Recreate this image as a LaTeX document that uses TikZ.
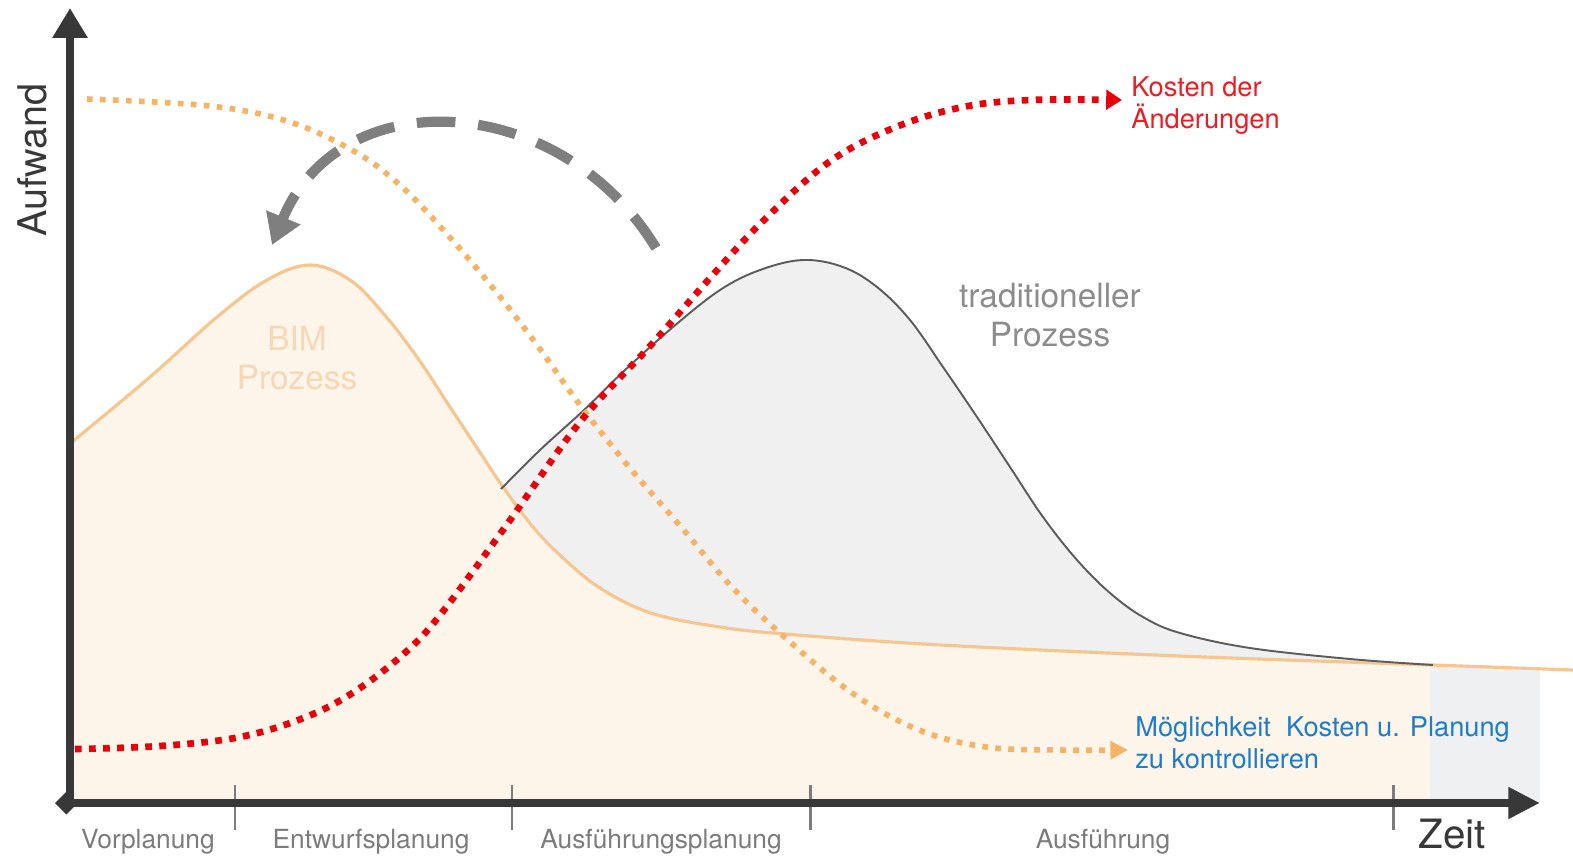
\documentclass[tikz,border=0pt]{standalone}
\usepackage{fontspec}
\setmainfont{TeX Gyre Heros}
\usetikzlibrary{arrows.meta}

\definecolor{achsgrau}{HTML}{383838}
\definecolor{phasengrau}{HTML}{7C7C7C}
\definecolor{bimorange}{HTML}{F5C690}
\definecolor{bimflaeche}{HTML}{FDF4EA}
\definecolor{tradflaeche}{HTML}{F0F0F0}
\definecolor{tradlinie}{HTML}{5C5C5C}
\definecolor{kostenrot}{HTML}{E8000B}
\definecolor{punktorange}{HTML}{F5B366}
\definecolor{pfeilgrau}{HTML}{7F7F7F}
\definecolor{textblau}{HTML}{1E7CC8}
\definecolor{textrot}{HTML}{EC1C24}
\definecolor{tradtext}{HTML}{8C8C8C}
\definecolor{bimtext}{HTML}{F6D8B6}
\definecolor{endgrau}{HTML}{EEF0F2}

\newcommand\bimlinie{-- plot[smooth,tension=0.6] coordinates {(72,442) (150,377) (217,317) (267,280) (310,265) (350,280) (383,313) (417,357) (450,407) (483,457) (503,487) (533,527) (562,557) (600,588) (651,613) (720,627) (785,634) (941,645) (1180,656) (1433,665) (1573,670)}}
\newcommand\tradlinie{-- plot[smooth,tension=0.6] coordinates {(501,489) (540,450) (584,410) (625,370) (673,327) (720,290) (760,270) (803,260) (843,267) (877,287) (910,320) (943,367) (977,417) (1010,467) (1043,517) (1077,560) (1110,593) (1143,617) (1180,633) (1250,648) (1350,659) (1433,665)}}

\begin{document}
\begin{tikzpicture}[x=0.02cm,y=-0.02cm,
    achse/.style={draw=achsgrau,line width=5pt},
    phasenstrich/.style={draw=phasengrau,line width=1.7pt},
    phase/.style={inner sep=0pt,anchor=base,text=phasengrau,font=\fontsize{15}{18}\selectfont},
    prozess/.style={inner sep=0pt,anchor=north,align=center,font=\fontsize{19}{22}\selectfont},
    hinweis/.style={inner sep=0pt,anchor=north west,align=left,font=\fontsize{15.5}{18.2}\selectfont},
    kosten/.style={draw=kostenrot,line width=3.8pt,dash pattern=on 3.8pt off 4.2pt,-{Triangle[length=9pt,width=11pt]}},
    moeglich/.style={draw=punktorange,line width=3.2pt,dash pattern=on 3.2pt off 4.2pt,-{Triangle[length=10pt,width=10pt]}},
    rueck/.style={draw=pfeilgrau,line width=5.8pt,dash pattern=on 22pt off 13pt,-{Triangle[length=17pt,width=20pt]}}]
    \useasboundingbox (0,0) rectangle (1573,859);
    \coordinate (O) at (70,806);
    \coordinate (ytip) at (70,8);
    \coordinate (xstart) at (55,803);
    \coordinate (xtip) at (1540,803);
    \coordinate (kstart) at (75,749);
    \coordinate (kend) at (1122,100);
    \coordinate (mstart) at (87,99);
    \coordinate (mend) at (1128,750);
    \coordinate (rstart) at (656,248);
    \coordinate (rend) at (272,245);

    \fill[tradflaeche] (501,803) \tradlinie -- (1433,803) -- cycle;
    \begin{scope}
        \clip (72,0) rectangle (1430,803);
        \fill[bimflaeche] (72,803) \bimlinie -- (1573,803) -- cycle;
    \end{scope}
    \begin{scope}
        \clip (1430,0) rectangle (1540,803);
        \fill[endgrau] (72,803) \bimlinie -- (1573,803) -- cycle;
    \end{scope}
    \draw[bimorange,line width=1.8pt] (72,442) \bimlinie;
    \draw[tradlinie,line width=1.1pt] (501,489) \tradlinie;

    \node[prozess,text=bimtext] (bim) at (297,326) {BIM\\Prozess};
    \node[prozess,text=tradtext] (trad) at (1050,283) {traditioneller\\Prozess};

    \draw[rueck] (rstart) .. controls (560,90) and (340,80) .. (rend);
    \draw[moeglich] plot[smooth,tension=0.6] coordinates {(mstart) (210,106) (290,122) (357,153) (402,187) (446,233) (493,288) (537,345) (580,405) (629,467) (682,528) (730,585) (780,633) (852,693) (919,730) (986,747) (1060,750) (mend)};
    \draw[kosten] plot[smooth,tension=0.6] coordinates {(kstart) (160,746) (240,737) (306,717) (357,690) (408,650) (444,610) (508,523) (580,422) (651,345) (710,278) (762,222) (829,162) (896,127) (963,107) (1030,100) (kend)};

    \node[hinweis,text=textrot] (kostenlabel) at (1131,76) {Kosten der\\Änderungen};
    \node[hinweis,text=textblau] (moeglichlabel) at (1135,716) {Möglichkeit\ \ Kosten u. Planung\\zu kontrollieren};

    \foreach \x in {235,512,810,1393}
        \draw[phasenstrich] (\x,785) -- (\x,830);
    \draw[achse,-{Triangle[length=17pt,width=19pt]}] (O) -- (ytip);
    \draw[achse,{Diamond[length=13pt,width=13pt]}-{Triangle[length=18pt,width=17pt]}] (xstart) -- (xtip);

    \node[phase] (vor) at (148,848) {Vorplanung};
    \node[phase] (entwurf) at (371,848) {Entwurfsplanung};
    \node[phase] (ausplan) at (661,848) {Ausführungsplanung};
    \node[phase] (ausf) at (1103,848) {Ausführung};
    \node[inner sep=0pt,anchor=base,text=achsgrau,font=\fontsize{23}{27}\selectfont] (zeit) at (1452,848) {Zeit};
    \node[inner sep=0pt,anchor=base,rotate=90,text=achsgrau,font=\fontsize{22.5}{27}\selectfont] (aufwand) at (47,160) {Aufwand};
\end{tikzpicture}
\end{document}
